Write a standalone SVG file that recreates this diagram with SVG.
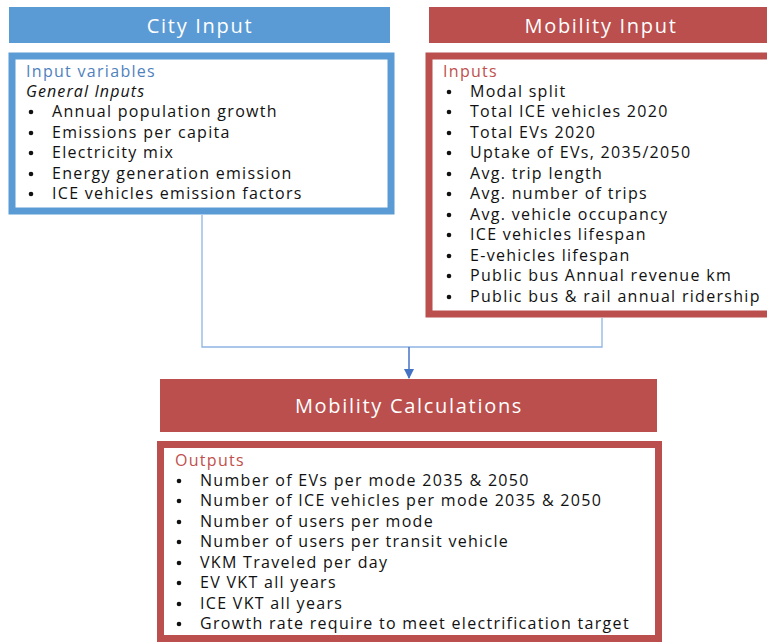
<svg xmlns="http://www.w3.org/2000/svg" width="767" height="642" viewBox="0 0 767 642">
  <defs>
    <style>
      text { font-family: "Open Sans", "Liberation Sans", sans-serif; }
      .hdr-blue { fill: #5B9BD5; }
      .hdr-red { fill: #BA4F4E; }
      .hdr-txt { fill: #FFFFFF; font-size: 20px; letter-spacing: 1.7px; text-anchor: middle; }
      .body-blue { fill: #FFFFFF; stroke: #5B9BD5; stroke-width: 7; }
      .body-red { fill: #FFFFFF; stroke: #BA4F4E; stroke-width: 7; }
      .item { fill: #111111; font-size: 16px; letter-spacing: 1.3px; }
      .ttl-blue { fill: #4F81BD; font-size: 16px; letter-spacing: 1.3px; }
      .ttl-red { fill: #C0504D; font-size: 16px; letter-spacing: 1.3px; }
      .ital { fill: #111111; font-size: 16px; letter-spacing: 1.1px; font-style: italic; }
      .bul { fill: #111111; }
      .wire { fill: none; stroke: #8EB4E3; stroke-width: 1.3; }
      .arrow { fill: none; stroke: #4472C4; stroke-width: 1.5; }
    </style>
    <marker id="tri" markerWidth="10" markerHeight="10" refX="9" refY="5" orient="auto" markerUnits="userSpaceOnUse">
      <path d="M0,0 L10,5 L0,10 Z" fill="#4472C4"/>
    </marker>
  </defs>

  <rect width="767" height="642" fill="#FFFFFF"/>

  <!-- connectors -->
  <g id="connectors">
    <polyline class="wire" points="202,215 202,347 602,347 602,318"/>
    <line class="arrow" x1="409" y1="347" x2="409" y2="378" marker-end="url(#tri)"/>
  </g>

  <!-- City input -->
  <g id="city-input">
    <rect class="hdr-blue" x="9" y="7" width="381" height="36"/>
    <text class="hdr-txt" x="200" y="33">City Input</text>
  </g>
  <g id="city-variables">
    <rect class="body-blue" x="12" y="56" width="379" height="155"/>
    <text class="ttl-blue" x="26" y="77">Input variables</text>
    <text class="ital" x="26" y="97">General Inputs</text>
    <g class="item">
      <text x="52" y="117">Annual population growth</text>
      <text x="52" y="138">Emissions per capita</text>
      <text x="52" y="158">Electricity mix</text>
      <text x="52" y="179">Energy generation emission</text>
      <text x="52" y="199">ICE vehicles emission factors</text>
    </g>
    <g class="bul">
      <circle cx="31" cy="112" r="2.3"/>
      <circle cx="31" cy="133" r="2.3"/>
      <circle cx="31" cy="153" r="2.3"/>
      <circle cx="31" cy="174" r="2.3"/>
      <circle cx="31" cy="194" r="2.3"/>
    </g>
  </g>

  <!-- Mobility input -->
  <g id="mobility-input">
    <rect class="hdr-red" x="429" y="7" width="340" height="36"/>
    <text class="hdr-txt" x="601" y="33">Mobility Input</text>
  </g>
  <g id="mobility-inputs">
    <rect class="body-red" x="429" y="56" width="345" height="258"/>
    <text class="ttl-red" x="443" y="77">Inputs</text>
    <g class="item">
      <text x="470" y="97">Modal split</text>
      <text x="470" y="117">Total ICE vehicles 2020</text>
      <text x="470" y="138">Total EVs 2020</text>
      <text x="470" y="158">Uptake of EVs, 2035/2050</text>
      <text x="470" y="179">Avg. trip length</text>
      <text x="470" y="199">Avg. number of trips</text>
      <text x="470" y="220">Avg. vehicle occupancy</text>
      <text x="470" y="240">ICE vehicles lifespan</text>
      <text x="470" y="261">E-vehicles lifespan</text>
      <text x="470" y="281">Public bus Annual revenue km</text>
      <text x="470" y="302">Public bus &amp; rail annual ridership</text>
    </g>
    <g class="bul">
      <circle cx="449" cy="92" r="2.3"/>
      <circle cx="449" cy="112" r="2.3"/>
      <circle cx="449" cy="133" r="2.3"/>
      <circle cx="449" cy="153" r="2.3"/>
      <circle cx="449" cy="174" r="2.3"/>
      <circle cx="449" cy="194" r="2.3"/>
      <circle cx="449" cy="215" r="2.3"/>
      <circle cx="449" cy="235" r="2.3"/>
      <circle cx="449" cy="256" r="2.3"/>
      <circle cx="449" cy="276" r="2.3"/>
      <circle cx="449" cy="297" r="2.3"/>
    </g>
  </g>

  <!-- Mobility calculations -->
  <g id="mobility-calculations">
    <rect class="hdr-red" x="160" y="379" width="497" height="53"/>
    <text class="hdr-txt" x="409" y="413">Mobility Calculations</text>
  </g>
  <g id="mobility-outputs">
    <rect class="body-red" x="160.5" y="444.5" width="498" height="194"/>
    <text class="ttl-red" x="175" y="466">Outputs</text>
    <g class="item">
      <text x="200" y="486">Number of EVs per mode 2035 &amp; 2050</text>
      <text x="200" y="506">Number of ICE vehicles per mode 2035 &amp; 2050</text>
      <text x="200" y="527">Number of users per mode</text>
      <text x="200" y="547">Number of users per transit vehicle</text>
      <text x="200" y="568">VKM Traveled per day</text>
      <text x="200" y="588">EV VKT all years</text>
      <text x="200" y="609">ICE VKT all years</text>
      <text x="200" y="629">Growth rate require to meet electrification target</text>
    </g>
    <g class="bul">
      <circle cx="179" cy="481" r="2.3"/>
      <circle cx="179" cy="501" r="2.3"/>
      <circle cx="179" cy="522" r="2.3"/>
      <circle cx="179" cy="542" r="2.3"/>
      <circle cx="179" cy="563" r="2.3"/>
      <circle cx="179" cy="583" r="2.3"/>
      <circle cx="179" cy="604" r="2.3"/>
      <circle cx="179" cy="624" r="2.3"/>
    </g>
  </g>
</svg>
